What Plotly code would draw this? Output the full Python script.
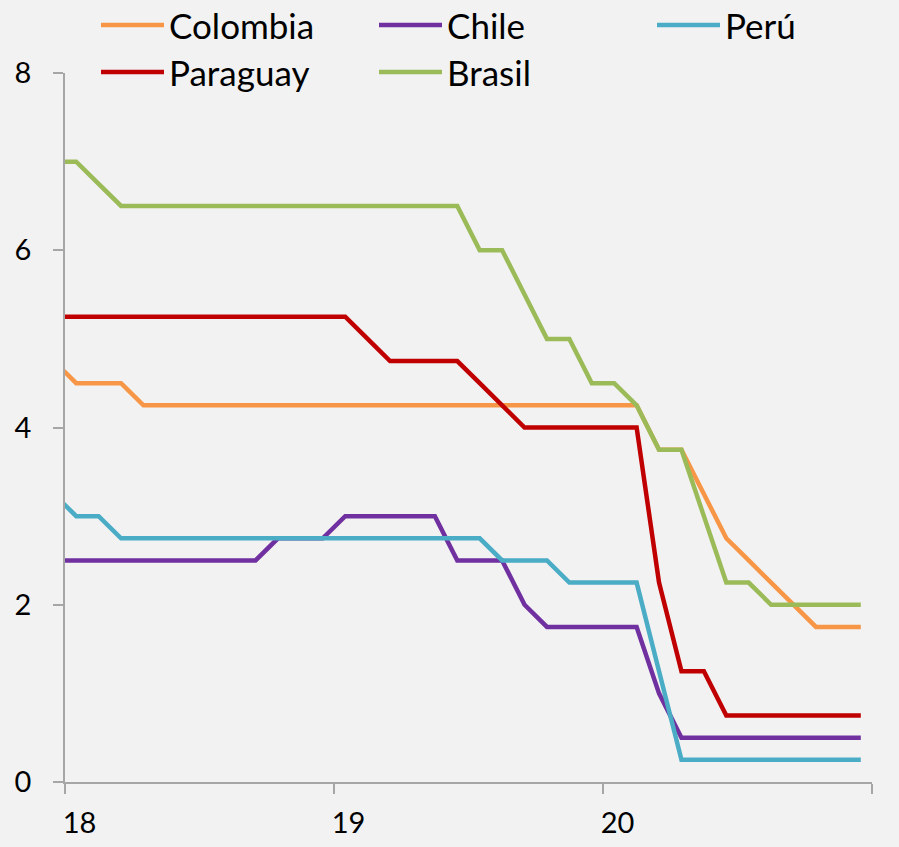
import numpy as np
import plotly.graph_objects as go

# Monthly observations Dec-2017 .. Dec-2020 (37 months)
months = [f"{y}-{m:02d}" for y in range(2017, 2021) for m in range(1, 13)][11:]
year_labels = ["18", "19", "20"]

colombia = [4.75, 4.5, 4.5, 4.5] + [4.25] * 23 + [3.75, 3.75, 3.25, 2.75, 2.5, 2.25, 2.0, 1.75, 1.75, 1.75]
chile = [2.5] * 10 + [2.75] * 3 + [3.0] * 5 + [2.5] * 3 + [2.0] + [1.75] * 5 + [1.0] + [0.5] * 9
peru = [3.25, 3.0, 3.0] + [2.75] * 17 + [2.5] * 3 + [2.25] * 4 + [1.25] + [0.25] * 9
paraguay = [5.25] * 14 + [5.0] + [4.75] * 4 + [4.5, 4.25] + [4.0] * 6 + [2.25, 1.25, 1.25] + [0.75] * 7
brasil = [7.0, 7.0, 6.75] + [6.5] * 16 + [6.0, 6.0, 5.5, 5.0, 5.0, 4.5, 4.5, 4.25, 3.75, 3.75, 3.0, 2.25, 2.25] + [2.0] * 5

series = [
    ("Colombia", colombia, "#F79646"),
    ("Chile", chile, "#7030A0"),
    ("Perú", peru, "#4BACC6"),
    ("Paraguay", paraguay, "#C00000"),
    ("Brasil", brasil, "#9BBB59"),
]

# legend grid: (column x in px, row) for each series
legend_slots = [(96, 0), (374, 0), (652, 0), (96, 1), (374, 1)]
ROW_Y = [1.109, 1.109 - 47 / 709]

# month position: Jan-2018 centred in first monthly slot
xpos = np.arange(len(months)) - 0.5

FONT = "Lato"
fig = go.Figure()
leg_layout = {}
for i, (name, vals, col) in enumerate(series):
    lg = "legend" if i == 0 else f"legend{i + 1}"
    fig.add_trace(go.Scatter(x=xpos, y=vals, mode="lines", name=name,
                             line=dict(color=col, width=4.5), legend=lg,
                             hoverinfo="skip"))
    lx, row = legend_slots[i]
    leg_layout[lg] = dict(orientation="v", xref="container", yref="paper",
                          x=lx / 899, y=ROW_Y[row],
                          xanchor="left", yanchor="top", bgcolor="rgba(0,0,0,0)",
                          font=dict(family=FONT, size=35, color="#000000"),
                          itemwidth=63, traceorder="normal")

fig.update_layout(
    width=899, height=847,
    paper_bgcolor="#F2F2F2", plot_bgcolor="#F2F2F2",
    margin=dict(l=65, r=27, t=73, b=65, autoexpand=False),
    font=dict(family=FONT, size=28, color="#000000"),
    xaxis=dict(range=[0, 36], showgrid=False, zeroline=False,
               showline=True, linecolor="#A6A6A6", linewidth=1.5,
               tickmode="array", tickvals=[0.65, 12.65, 24.65], ticktext=year_labels,
               ticks="", ticklabelstandoff=14,
               tickfont=dict(family=FONT, size=29),
               minor=dict(tickmode="array", tickvals=[0, 12, 24, 36], ticks="outside",
                          ticklen=10, tickwidth=1.5, tickcolor="#A6A6A6", showgrid=False)),
    yaxis=dict(range=[0, 8], showgrid=False, zeroline=False,
               showline=True, linecolor="#A6A6A6", linewidth=1.5,
               tickmode="array", tickvals=[0, 2, 4, 6, 8],
               ticks="outside", ticklen=10, tickwidth=1.5, tickcolor="#A6A6A6",
               ticklabelstandoff=16,
               tickfont=dict(family=FONT, size=29)),
    showlegend=True,
    **leg_layout,
)

fig.write_html("out.html", config={"displayModeBar": False},
               post_script="document.body.style.margin='0';document.body.style.padding='0';")
